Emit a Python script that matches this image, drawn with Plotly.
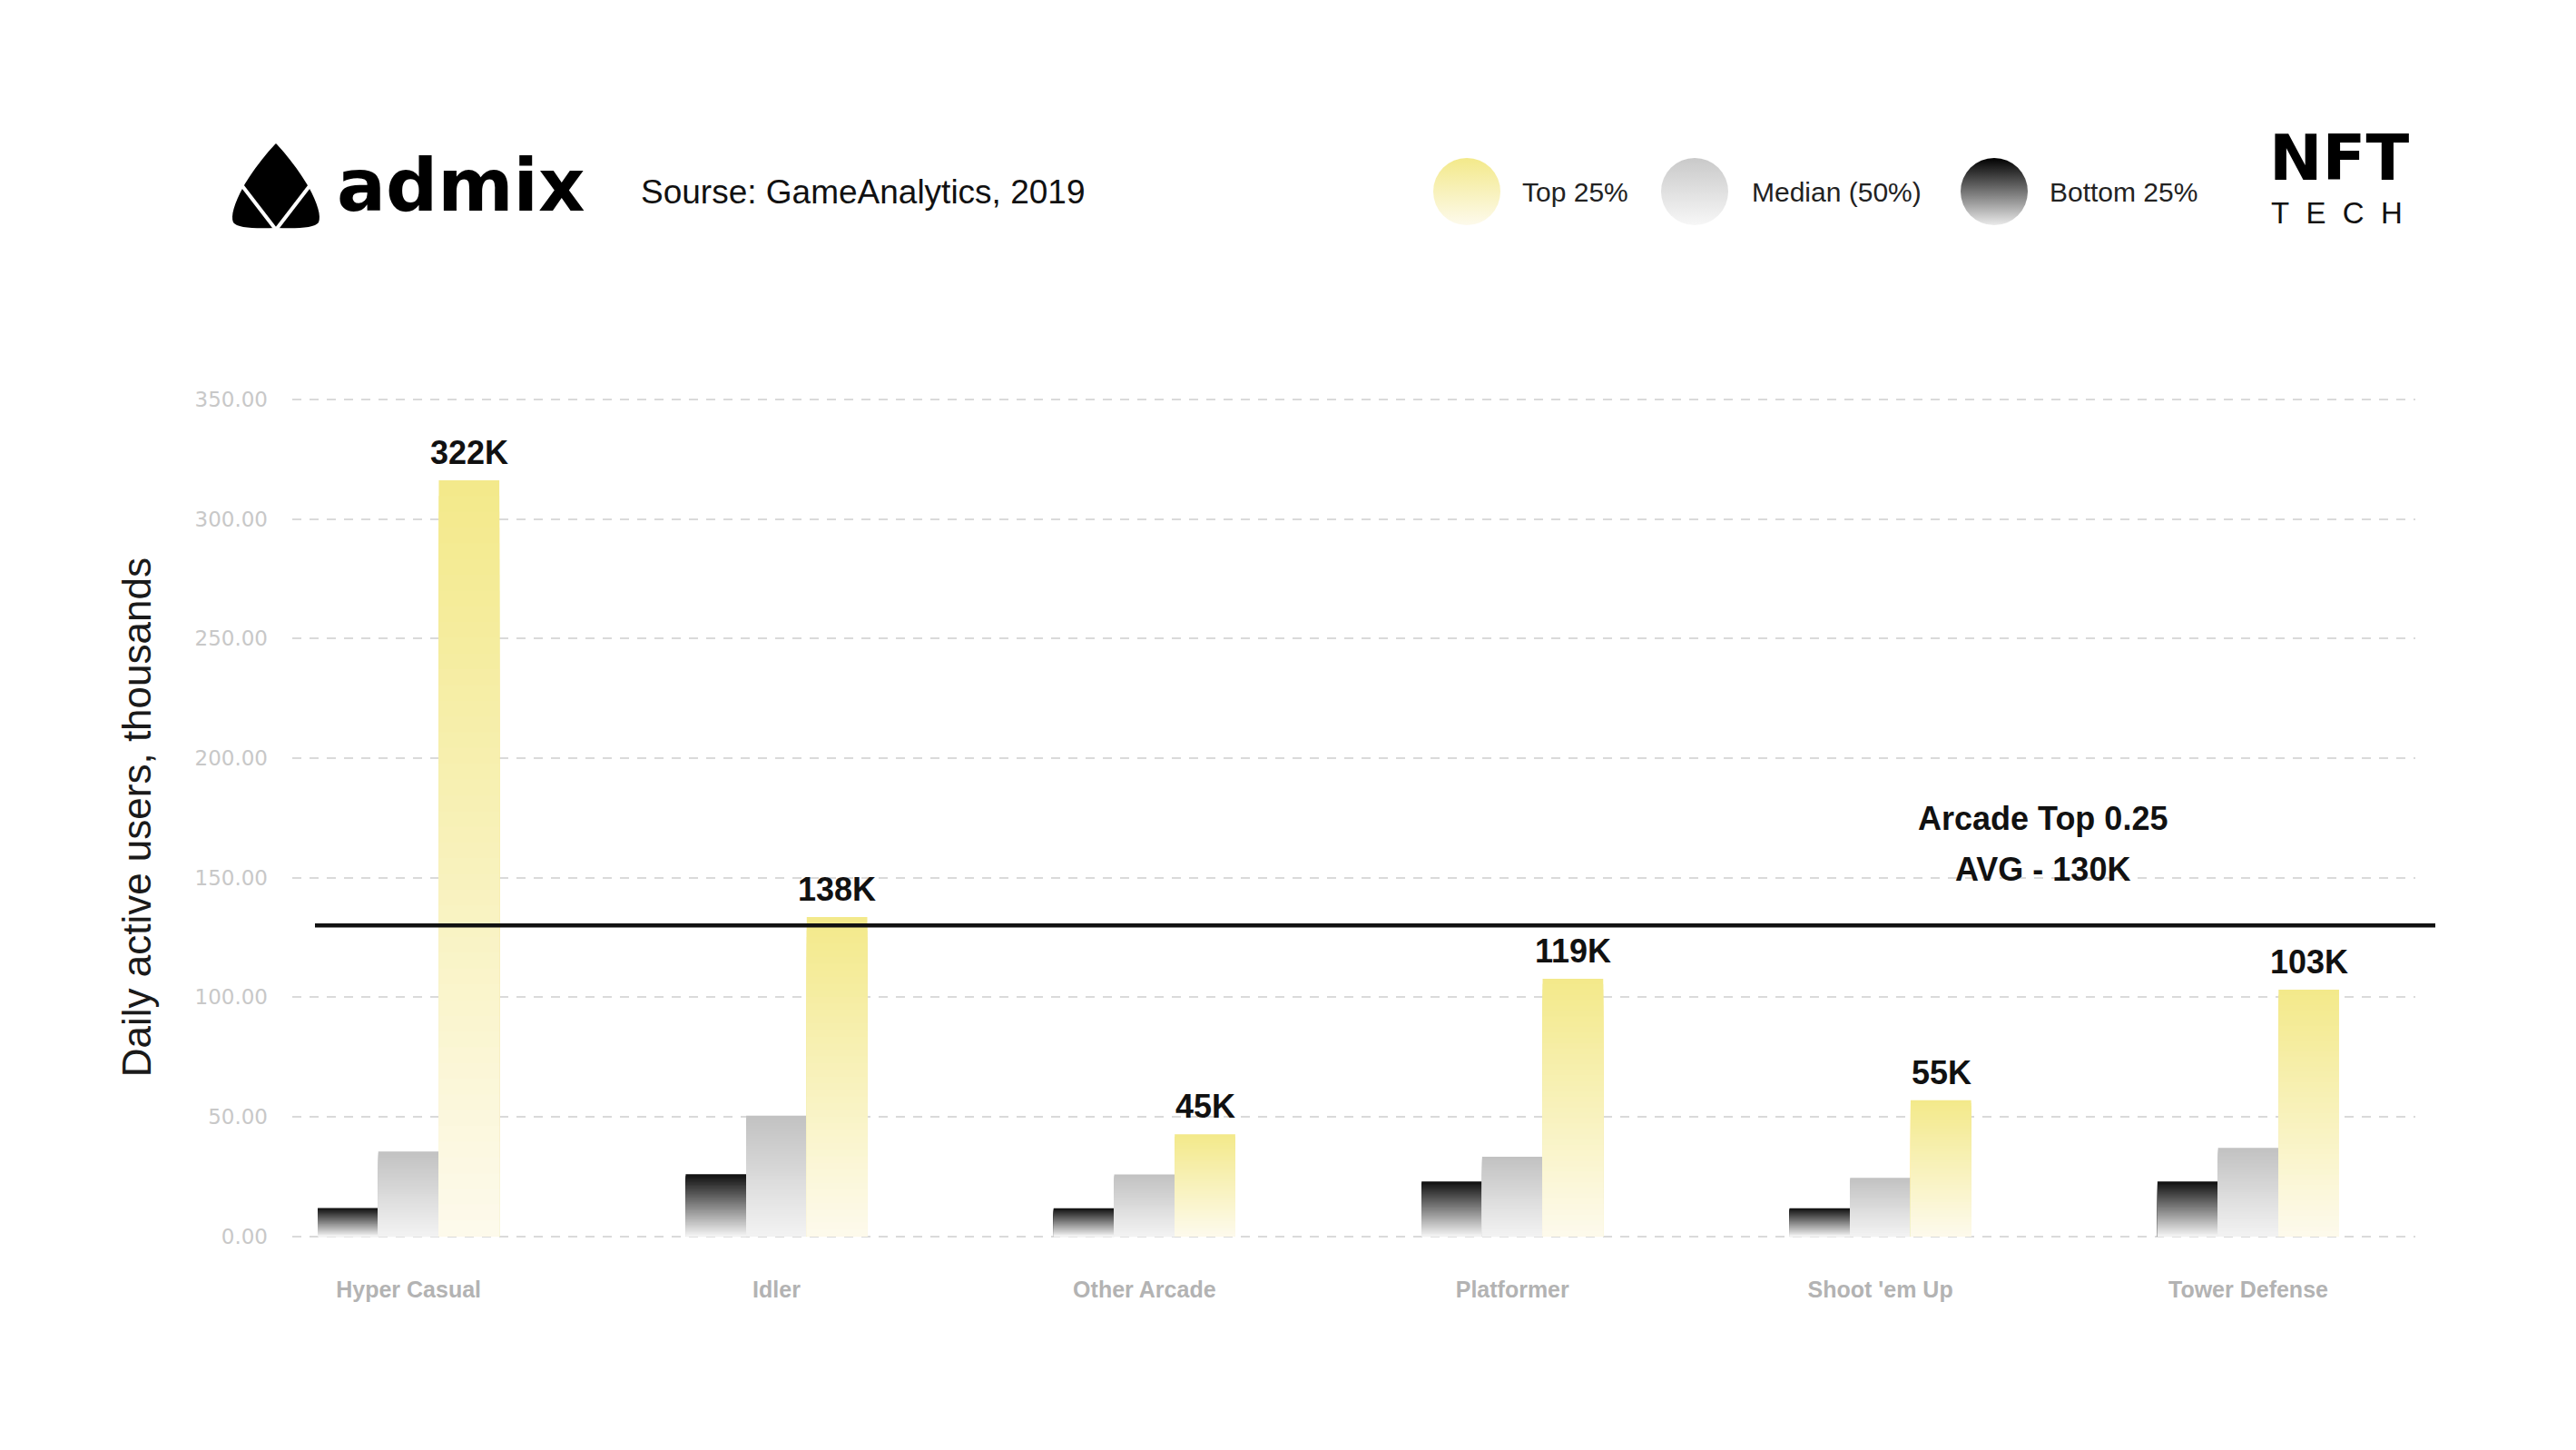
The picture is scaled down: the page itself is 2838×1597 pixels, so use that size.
import plotly.graph_objects as go

# ---------------- data ----------------
categories = ["Hyper Casual", "Idler", "Other Arcade", "Platformer", "Shoot 'em Up", "Tower Defense"]
bottom25 = [11.8, 25.9, 11.7, 22.9, 11.7, 22.9]
median50 = [35.4, 50.4, 25.8, 33.2, 24.4, 36.9]
top25 = [316.2, 133.5, 42.6, 107.7, 56.9, 103.1]
top25_labels = ["322K", "138K", "45K", "119K", "55K", "103K"]
arcade_top_avg = 130
y_ticks = [0, 50, 100, 150, 200, 250, 300, 350]
series_names = ["Bottom 25%", "Median (50%)", "Top 25%"]

# ---------------- layout constants ----------------
W, H = 2838, 1597
FONT = "Arial, Liberation Sans, sans-serif"


def hex2rgb(h):
    h = h.lstrip("#")
    return tuple(int(h[i:i + 2], 16) for i in (0, 2, 4))


def lerp(c1, c2, t):
    a, b = hex2rgb(c1), hex2rgb(c2)
    return "rgb(%d,%d,%d)" % tuple(round(a[i] + (b[i] - a[i]) * t) for i in range(3))


fig = go.Figure()

# gradient bars: stacked overlays of the same bar, drawn from full height down
N = 48
BAR_W = 0.1645
series = [
    (series_names[0], bottom25, "#0e0e0e", "#f4f4f4", -1.5 * BAR_W),
    (series_names[1], median50, "#c1c1c1", "#f3f3f3", -0.5 * BAR_W),
    (series_names[2], top25, "#f3e98a", "#fdfaec", 0.5 * BAR_W),
]
for name, vals, ctop, cbot, off in series:
    for k in range(N):
        frac = 1 - k / N
        t = (k + 0.5) / N
        fig.add_trace(go.Bar(
            x=categories, y=[v * frac for v in vals], name=name,
            width=BAR_W, offset=off, opacity=1,
            marker=dict(color=lerp(ctop, cbot, t), line=dict(width=0)),
            hoverinfo="skip" if k else "x+y+name", showlegend=False,
            xaxis="x", yaxis="y",
        ))

# value labels above the top-25% bars
annotations = []
for cat, v, lab in zip(categories, top25, top25_labels):
    annotations.append(dict(
        x=cat, y=v, xref="x", yref="y", text=lab, showarrow=False,
        xanchor="center", yanchor="bottom", xshift=67, yshift=8,
        font=dict(family=FONT, size=36, color="#111111", weight="bold"),
    ))

# average line
shapes = [dict(type="line", xref="x2", yref="y", x0=347, x1=2683,
               y0=arcade_top_avg, y1=arcade_top_avg,
               line=dict(color="#111111", width=4.5), layer="above")]

annotations += [
    dict(x=2250, y=901, xref="x2", yref="y2", text="Arcade Top 0.25", showarrow=False,
         xanchor="center", yanchor="middle",
         font=dict(family=FONT, size=36, color="#111111", weight="bold")),
    dict(x=2250, y=957, xref="x2", yref="y2", text="AVG - 130K", showarrow=False,
         xanchor="center", yanchor="middle",
         font=dict(family=FONT, size=36, color="#111111", weight="bold")),
]

# ---------------- header ----------------
# admix icon
shapes.append(dict(
    type="path", xref="x2", yref="y2", fillcolor="#000000", line=dict(width=0),
    path="M 304 158 C 295 167 278 188 268 206 C 258 224 254 238 257 245 "
         "C 261 251 280 252 304 251 C 328 252 347 251 351 245 "
         "C 354 238 350 224 340 206 C 330 188 313 167 304 158 Z"))
shapes.append(dict(type="line", xref="x2", yref="y2", x0=264, y0=201, x1=304, y1=253,
                   line=dict(color="white", width=4)))
shapes.append(dict(type="line", xref="x2", yref="y2", x0=344, y0=201, x1=304, y1=253,
                   line=dict(color="white", width=4)))
annotations.append(dict(x=369, y=204, xref="x2", yref="y2", text="admix", showarrow=False,
                        xanchor="left", yanchor="middle",
                        font=dict(family="DejaVu Sans", size=80, color="#000000", weight="bold")))
annotations.append(dict(x=704, y=211, xref="x2", yref="y2", text="Sourse: GameAnalytics, 2019",
                        showarrow=False, xanchor="left", yanchor="middle",
                        font=dict(family=FONT, size=37, color="#111111")))

# legend
legend_items = [
    (series_names[2], "#f3e98a", "#fdfaec", 1616, 1675),
    (series_names[1], "#c9c9c9", "#f7f7f7", 1867, 1928),
    (series_names[0], "#000000", "#eaeaea", 2197, 2256),
]
for name, ctop, cbot, cx, tx in legend_items:
    fig.add_trace(go.Scatter(
        x=[cx], y=[211], xaxis="x2", yaxis="y2", mode="markers", showlegend=False,
        hoverinfo="skip",
        marker=dict(size=74, color=ctop, gradient=dict(type="vertical", color=cbot),
                    line=dict(width=0))))
    annotations.append(dict(x=tx, y=211, xref="x2", yref="y2", text=name, showarrow=False,
                            xanchor="left", yanchor="middle",
                            font=dict(family=FONT, size=30, color="#222222")))

# NFT TECH
annotations.append(dict(x=2498, y=174, xref="x2", yref="y2", text="NFT", showarrow=False,
                        xanchor="left", yanchor="middle",
                        font=dict(family="DejaVu Sans", size=70, color="#000000", weight="bold")))
annotations.append(dict(x=2500, y=234, xref="x2", yref="y2",
                        text="T\u00a0\u00a0E\u00a0\u00a0C\u00a0\u00a0H", showarrow=False,
                        xanchor="left", yanchor="middle",
                        font=dict(family=FONT, size=33, color="#111111")))

# ---------------- axes ----------------
fig.update_layout(
    width=W, height=H,
    margin=dict(l=0, r=0, t=0, b=0, pad=0),
    paper_bgcolor="white", plot_bgcolor="rgba(0,0,0,0)",
    barmode="overlay",
    font=dict(family=FONT),
    xaxis=dict(domain=[322 / W, 2661 / W], range=[-0.316, 5.454], anchor="y",
               showgrid=False, zeroline=False, showline=False, ticks="",
               ticklabelstandoff=40, automargin=False,
               tickfont=dict(family=FONT, size=25, color="#b3b3b3", weight="bold"),
               fixedrange=True),
    yaxis=dict(domain=[1 - 1363.1 / H, 1 - 437.3 / H], range=[-0.6, 351], anchor="x",
               tickvals=y_ticks, tickformat=".2f",
               showgrid=True, gridcolor="#dadada", gridwidth=2, griddash="10px,9px",
               zeroline=False, showline=False, ticks="", ticklabelstandoff=26,
               automargin=False,
               tickfont=dict(family="DejaVu Sans", size=23, color="#c8c8c8"),
               title=dict(text="Daily active users, thousands", standoff=34,
                          font=dict(family=FONT, size=44, color="#1a1a1a")),
               fixedrange=True),
    xaxis2=dict(domain=[0, 1], range=[0, W], anchor="y2", visible=False,
                automargin=False, fixedrange=True),
    yaxis2=dict(domain=[0, 1], range=[H, 0], anchor="x2", visible=False,
                automargin=False, fixedrange=True),
    shapes=shapes,
    annotations=annotations,
    showlegend=False,
)

fig.write_html("out.html")
